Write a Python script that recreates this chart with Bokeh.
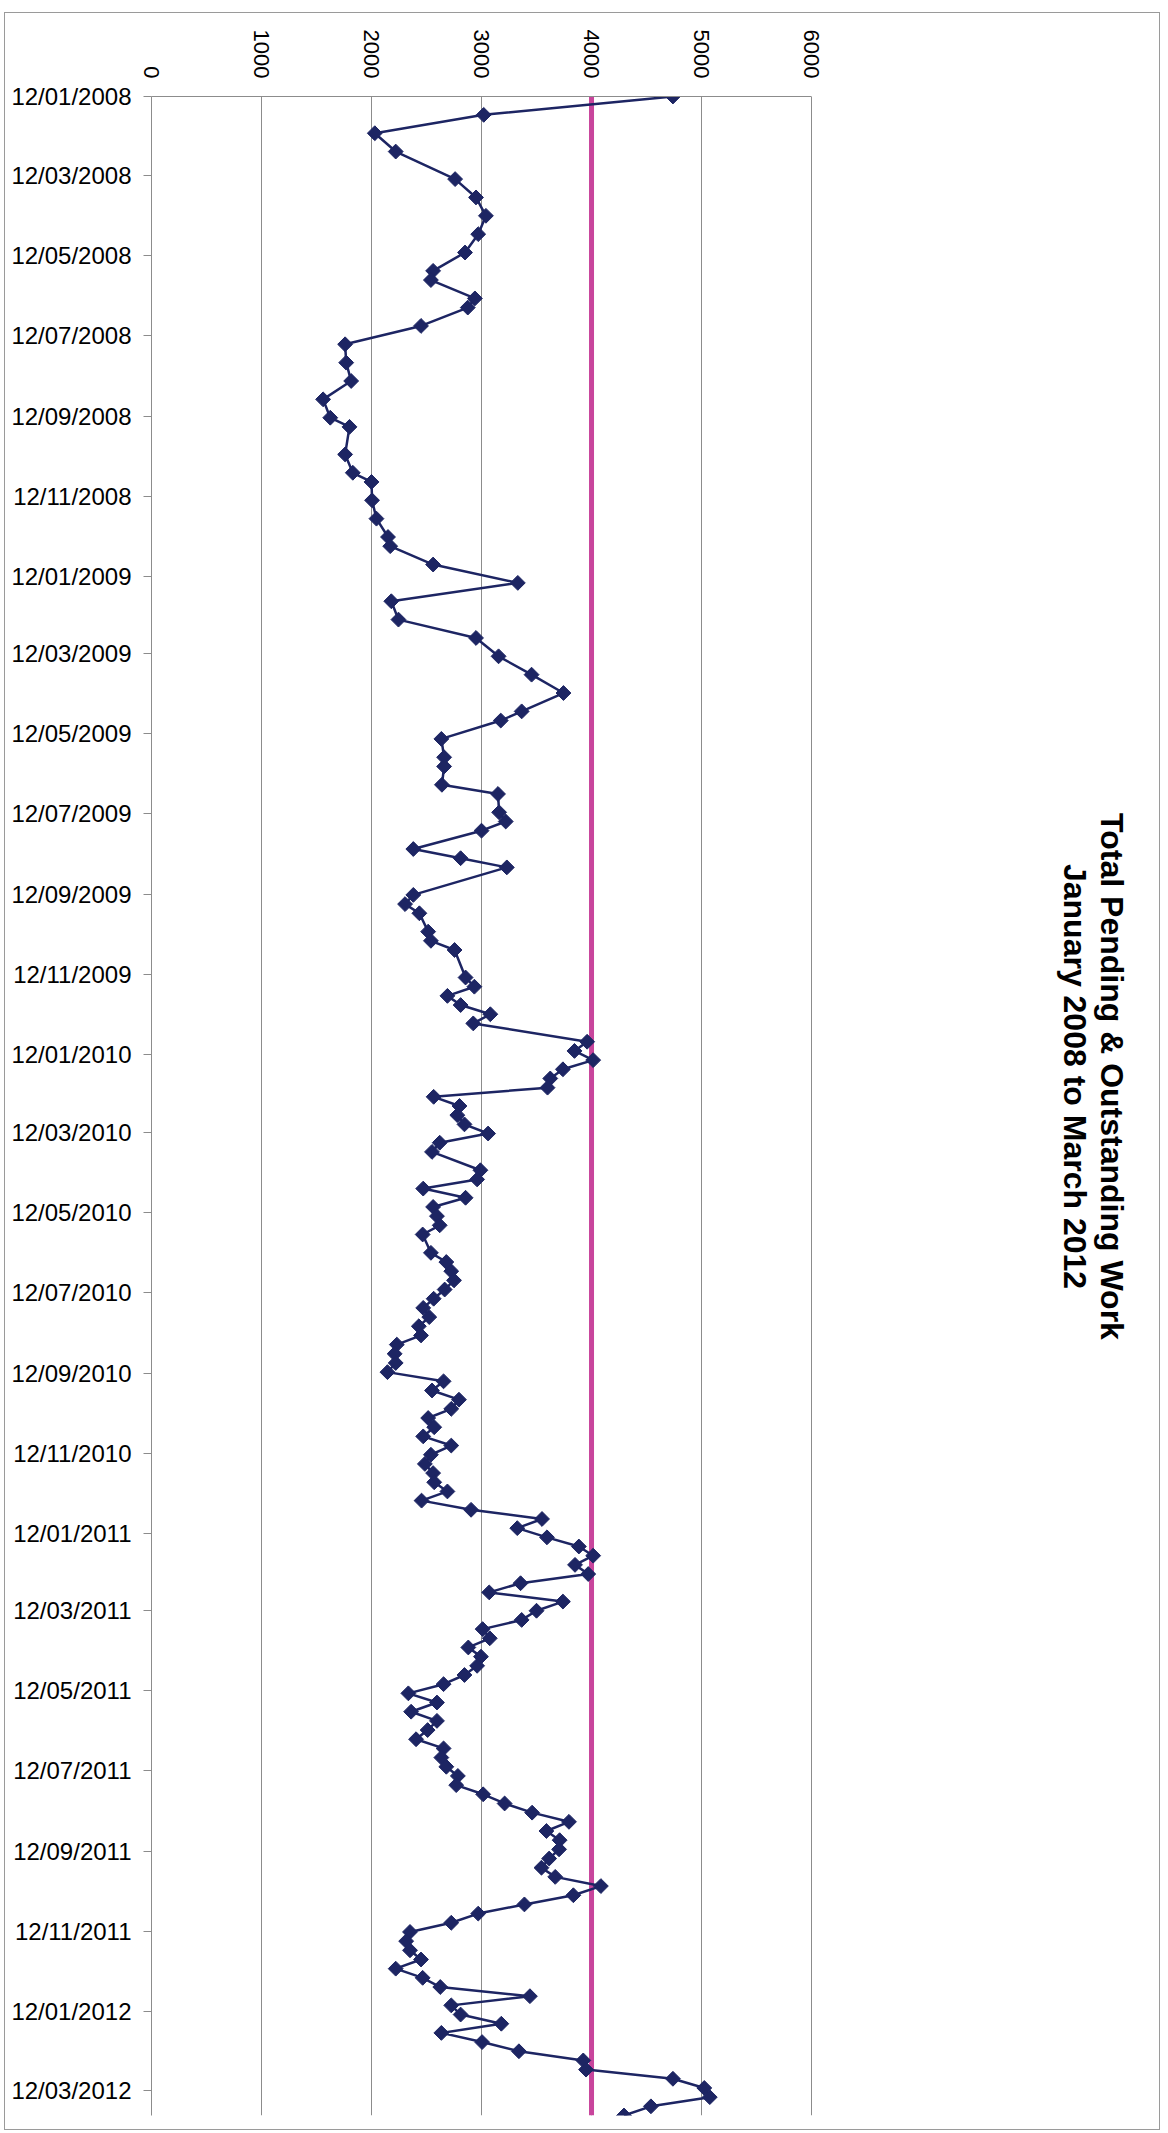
import math
import pandas as pd
from bokeh.plotting import figure
from bokeh.models import Range1d, FixedTicker, DatetimeTickFormatter, Span, Label, ColumnDataSource
from bokeh.embed import file_html
from bokeh.resources import INLINE

# ---------------- data ----------------
dates = [
    "2008-01-12", "2008-01-26", "2008-02-09", "2008-02-23", "2008-03-15", "2008-03-29",
    "2008-04-12", "2008-04-26", "2008-05-10", "2008-05-24", "2008-05-31", "2008-06-14",
    "2008-06-21", "2008-07-05", "2008-07-19", "2008-08-02", "2008-08-16", "2008-08-30",
    "2008-09-13", "2008-09-20", "2008-10-11", "2008-10-25", "2008-11-01", "2008-11-15",
    "2008-11-29", "2008-12-13", "2008-12-20", "2009-01-03", "2009-01-17", "2009-01-31",
    "2009-02-14", "2009-02-28", "2009-03-14", "2009-03-28", "2009-04-11", "2009-04-25",
    "2009-05-02", "2009-05-16", "2009-05-30", "2009-06-06", "2009-06-20", "2009-06-27",
    "2009-07-11", "2009-07-18", "2009-07-25", "2009-08-08", "2009-08-15", "2009-08-22",
    "2009-09-12", "2009-09-19", "2009-09-26", "2009-10-10", "2009-10-17", "2009-10-24",
    "2009-11-14", "2009-11-21", "2009-11-28", "2009-12-05", "2009-12-12", "2009-12-19",
    "2010-01-02", "2010-01-09", "2010-01-16", "2010-01-23", "2010-01-30", "2010-02-06",
    "2010-02-13", "2010-02-20", "2010-02-27", "2010-03-06", "2010-03-13", "2010-03-20",
    "2010-03-27", "2010-04-10", "2010-04-17", "2010-04-24", "2010-05-01", "2010-05-08",
    "2010-05-15", "2010-05-22", "2010-05-29", "2010-06-12", "2010-06-19", "2010-06-26",
    "2010-07-03", "2010-07-10", "2010-07-17", "2010-07-24", "2010-07-31", "2010-08-07",
    "2010-08-14", "2010-08-21", "2010-08-28", "2010-09-04", "2010-09-11", "2010-09-18",
    "2010-09-25", "2010-10-02", "2010-10-09", "2010-10-16", "2010-10-23", "2010-10-30",
    "2010-11-06", "2010-11-13", "2010-11-20", "2010-11-27", "2010-12-04", "2010-12-11",
    "2010-12-18", "2010-12-25", "2011-01-01", "2011-01-08", "2011-01-15", "2011-01-22",
    "2011-01-29", "2011-02-05", "2011-02-12", "2011-02-19", "2011-02-26", "2011-03-05",
    "2011-03-12", "2011-03-19", "2011-03-26", "2011-04-02", "2011-04-09", "2011-04-16",
    "2011-04-23", "2011-04-30", "2011-05-07", "2011-05-14", "2011-05-21", "2011-05-28",
    "2011-06-04", "2011-06-11", "2011-06-18", "2011-06-25", "2011-07-02", "2011-07-09",
    "2011-07-16", "2011-07-23", "2011-07-30", "2011-08-06", "2011-08-13", "2011-08-20",
    "2011-08-27", "2011-09-03", "2011-09-10", "2011-09-17", "2011-09-24", "2011-10-01",
    "2011-10-08", "2011-10-15", "2011-10-22", "2011-10-29", "2011-11-05", "2011-11-12",
    "2011-11-19", "2011-11-26", "2011-12-03", "2011-12-10", "2011-12-17", "2011-12-24",
    "2011-12-31", "2012-01-07", "2012-01-14", "2012-01-21", "2012-01-28", "2012-02-04",
    "2012-02-11", "2012-02-18", "2012-02-25", "2012-03-03", "2012-03-10", "2012-03-17",
    "2012-03-24", "2012-03-31",
]

pending = [
    4740, 3020, 2030, 2220, 2760, 2950,
    3040, 2970, 2850, 2560, 2540, 2940,
    2875, 2450, 1760, 1770, 1815, 1560,
    1625, 1800, 1760, 1830, 2000, 2005,
    2045, 2150, 2170, 2560, 3330, 2180,
    2245, 2950, 3155, 3455, 3745, 3365,
    3175, 2635, 2660, 2660, 2640, 3150,
    3160, 3220, 3000, 2380, 2810, 3230,
    2380, 2305, 2435, 2515, 2540, 2755,
    2855, 2935, 2690, 2810, 3080, 2925,
    3960, 3845, 4015, 3740, 3625, 3600,
    2565, 2800, 2780, 2845, 3060, 2620,
    2550, 2990, 2960, 2470, 2855, 2560,
    2595, 2620, 2465, 2540, 2680, 2725,
    2750, 2665, 2565, 2470, 2525, 2430,
    2450, 2230, 2210, 2220, 2145, 2655,
    2550, 2795, 2725, 2515, 2570, 2470,
    2725, 2540, 2485, 2560, 2570, 2690,
    2455, 2905, 3550, 3325, 3595, 3885,
    4015, 3850, 3970, 3355, 3070, 3740,
    3500, 3365, 3010, 3075, 2880, 2995,
    2960, 2845, 2655, 2335, 2595, 2360,
    2595, 2510, 2405, 2655, 2635, 2680,
    2785, 2770, 3015, 3210, 3460, 3795,
    3590, 3710, 3705, 3615, 3545, 3670,
    4085, 3835, 3390, 2970, 2725, 2350,
    2315, 2350, 2450, 2220, 2465, 2625,
    3440, 2725, 2810, 3180, 2635, 3005,
    3340, 3925, 3950, 4740, 5025, 5075,
    4540, 4295,
]

date_tick_labels = [
    "12/01/2008", "12/03/2008", "12/05/2008", "12/07/2008", "12/09/2008", "12/11/2008",
    "12/01/2009", "12/03/2009", "12/05/2009", "12/07/2009", "12/09/2009", "12/11/2009",
    "12/01/2010", "12/03/2010", "12/05/2010", "12/07/2010", "12/09/2010", "12/11/2010",
    "12/01/2011", "12/03/2011", "12/05/2011", "12/07/2011", "12/09/2011", "12/11/2011",
    "12/01/2012", "12/03/2012",
]
value_ticks = [0, 1000, 2000, 3000, 4000, 5000, 6000]
target = 4000
title_line1 = "Total Pending & Outstanding Work"
title_line2 = "January 2008 to March 2012"

# ---------------- build ----------------
dt = pd.to_datetime(dates)
src = ColumnDataSource(dict(date=dt, pending=pending))
tick_dt = pd.to_datetime(date_tick_labels, format="%d/%m/%Y")
tick_ms = [t.timestamp() * 1000.0 for t in tick_dt]

NAVY = "#1d2563"
GRID = "#8c8c8c"
FONT = "Liberation Sans"

# The frame is widened to the right so the rotated title (drawn as Labels)
# sits inside it; the value axis itself is bounded to 0..6000.
X_VIEW_END = 9145

p = figure(
    width=1156, height=2118,
    x_range=Range1d(value_ticks[0], X_VIEW_END),
    y_range=Range1d(start=dt.max(), end=dt.min()),
    y_axis_type="datetime", x_axis_location="above",
    output_backend="svg", toolbar_location=None,
    min_border_left=146, min_border_top=83, min_border_right=4, min_border_bottom=16,
    background_fill_color="white", border_fill_color="white",
    outline_line_color=None,
)
p.styles = {"border": "1px solid #9a9a9a", "margin-left": "4px", "margin-top": "12px"}

# value axis (top)
xa = p.xaxis[0]
xa.bounds = (value_ticks[0], value_ticks[-1])
xa.ticker = FixedTicker(ticks=value_ticks, minor_ticks=[])
xa.major_label_orientation = -math.pi / 2
xa.major_label_text_font = FONT
xa.major_label_text_font_size = "22px"
xa.major_label_text_color = "black"
xa.major_label_standoff = 18
xa.major_tick_out = 0
xa.major_tick_in = 0
xa.minor_tick_out = 0
xa.minor_tick_in = 0
xa.axis_line_color = GRID
xa.axis_line_width = 1

# date axis (left)
ya = p.yaxis[0]
ya.ticker = FixedTicker(ticks=tick_ms, minor_ticks=[])
fmt = "%d/%m/%Y"
ya.formatter = DatetimeTickFormatter(
    microseconds=fmt, milliseconds=fmt, seconds=fmt, minsec=fmt, minutes=fmt,
    hourmin=fmt, hours=fmt, days=fmt, months=fmt, years=fmt,
    strip_leading_zeros=False,
)
ya.major_label_text_font = FONT
ya.major_label_text_font_size = "24px"
ya.major_label_text_color = "black"
ya.major_label_standoff = 12
ya.major_tick_out = 8
ya.major_tick_in = 0
ya.minor_tick_out = 0
ya.minor_tick_in = 0
ya.major_tick_line_color = GRID
ya.axis_line_color = GRID

p.xgrid.ticker = FixedTicker(ticks=value_ticks, minor_ticks=[])
p.xgrid.grid_line_color = GRID
p.xgrid.grid_line_width = 1
p.ygrid.grid_line_color = None

p.add_layout(Span(location=target, dimension="height", line_color="#c8459c",
                  line_width=5, level="underlay"))

p.line("pending", "date", source=src, line_color=NAVY, line_width=2.5)
p.scatter("pending", "date", source=src, marker="square", angle=math.pi / 4,
          size=10.5, fill_color=NAVY, line_color=NAVY)

# rotated two-line title (screen units from the frame's bottom-left corner)
for txt, xs in ((title_line1, 960), (title_line2, 923)):
    p.add_layout(Label(x=xs, y=1039, x_units="screen", y_units="screen", text=txt,
                       angle=-math.pi / 2, text_align="center", text_baseline="alphabetic",
                       text_font=FONT, text_font_size="32px", text_font_style="bold",
                       text_color="black"))

open("out.html", "w").write(file_html(p, INLINE))
